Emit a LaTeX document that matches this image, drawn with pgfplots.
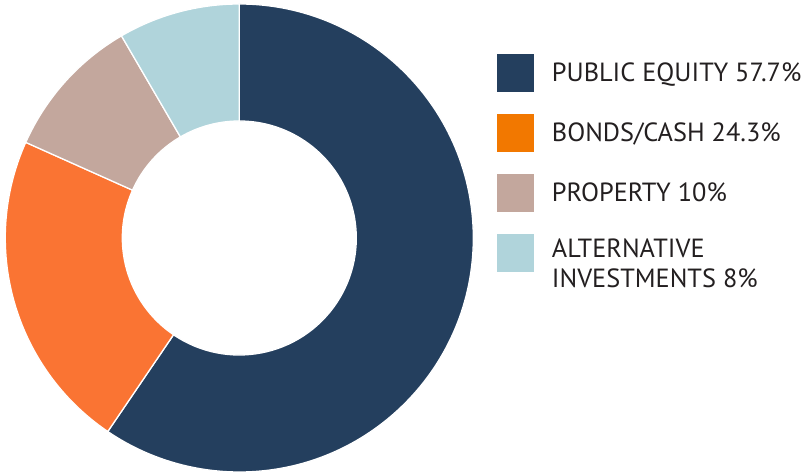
\documentclass[border=0pt]{standalone}
\usepackage{pgfplots}
\pgfplotsset{compat=1.18}
\usepackage{fontspec}
\setmainfont{PT Sans}
\definecolor{cNavy}{HTML}{243F5E}
\definecolor{cOrange}{HTML}{FA7433}
\definecolor{cOrangeL}{HTML}{F27800}
\definecolor{cProp}{HTML}{C3A79D}
\definecolor{cAlt}{HTML}{B0D4DB}
\definecolor{cText}{HTML}{231F20}
% slice shares as drawn (percent), clockwise from 12 o'clock
\def\pA{59.5}\def\pB{22.2}\def\pC{9.9}\def\pD{8.4}
\pgfmathsetmacro\aA{90}
\pgfmathsetmacro\aB{90-3.6*\pA}
\pgfmathsetmacro\aC{\aB-3.6*\pB}
\pgfmathsetmacro\aD{\aC-3.6*\pC}
\pgfmathsetmacro\aE{\aD-3.6*\pD}
\def\Ro{234bp}\def\Ri{117bp}
\newcommand\slice[3]{% start, end, colour
  \fill[#3,draw=white,line width=1.3bp] (#1:\Ro) arc[start angle=#1,end angle=#2,radius=\Ro]
    -- (#2:\Ri) arc[start angle=#2,end angle=#1,radius=\Ri] -- cycle;}
\begin{document}
\begin{tikzpicture}
\begin{axis}[
  x=1bp, y=1bp, disabledatascaling,
  xmin=0, xmax=806, ymin=0, ymax=472,
  hide axis, clip=false, scale only axis,
]
\begin{scope}[shift={(axis cs:239.3,234.0)}]
\slice{\aA}{\aB}{cNavy}
\slice{\aB}{\aC}{cOrange}
\slice{\aC}{\aD}{cProp}
\slice{\aD}{\aE}{cAlt}
\end{scope}
% legend
\fill[cNavy]   (axis cs:496.7,380) rectangle (axis cs:534.3,418);
\fill[cOrangeL](axis cs:496.7,320) rectangle (axis cs:534.3,358);
\fill[cProp]   (axis cs:496.7,260) rectangle (axis cs:534.3,298);
\fill[cAlt]    (axis cs:496.7,200) rectangle (axis cs:534.3,238);
\begin{scope}[every node/.style={anchor=base west,inner sep=0pt,text=cText,font=\fontsize{26.3bp}{30bp}\selectfont}]
\node at (axis cs:551.7,390.3) {PUBLIC EQUITY 57.7\%};
\node at (axis cs:551.7,330.3) {BONDS/CASH 24.3\%};
\node at (axis cs:551.7,270.3) {PROPERTY 10\%};
\node at (axis cs:551.7,214.0) {ALTERNATIVE};
\node at (axis cs:551.7,184.0) {INVESTMENTS 8\%};
\end{scope}
\end{axis}
\pgfresetboundingbox
\useasboundingbox (current axis.south west) rectangle (current axis.north east);
\end{tikzpicture}
\end{document}
